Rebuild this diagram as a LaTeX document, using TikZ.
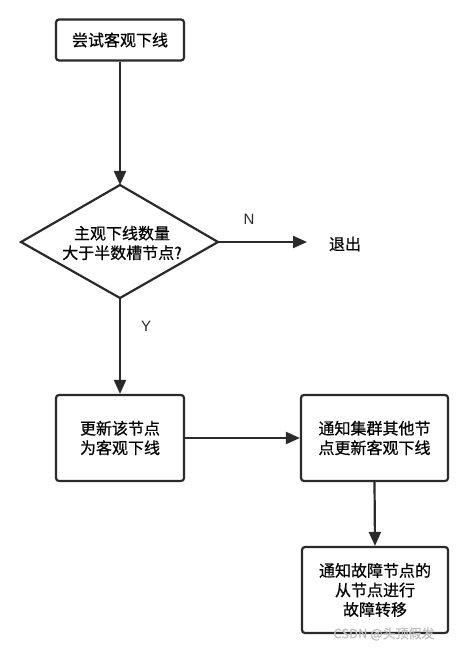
\documentclass[tikz,border=0pt]{standalone}
\usepackage{fontspec}
\setmainfont{Liberation Sans}
\newfontfamily\cjk[FakeBold=0.6]{Noto Sans CJK SC}
\usetikzlibrary{arrows.meta}
\definecolor{ln}{HTML}{2A2A2A}
\begin{document}
\begin{tikzpicture}[x=1pt,y=-1pt,
  box/.style={draw=ln,line width=2.2pt,rounded corners=3pt,align=center,font=\cjk\fontsize{16}{19.5}\selectfont,inner sep=0pt},
  arr/.style={draw=ln,line width=2.2pt,-{Triangle[length=14pt,width=12pt]}},
  lbl/.style={font=\fontsize{15}{17}\selectfont,text=ln}]
\useasboundingbox[fill=white] (0,0) rectangle (468,652);
\node[box,minimum width=128pt,minimum height=41pt] (try) at (120,40) {尝试客观下线};
\draw[draw=ln,line width=2.2pt,line join=miter,fill=white] (120,185) coordinate (dtop) -- (218,242) coordinate (dright) -- (120,298) coordinate (dbot) -- (21,242) -- cycle;
\node[align=center,font=\cjk\fontsize{16}{19.5}\selectfont,inner sep=0pt] (dec) at (122,243) {主观下线数量\\大于半数槽节点?};
\node[box,minimum width=128pt,minimum height=86pt] (upd) at (120,438) {更新该节点\\为客观下线};
\node[box,minimum width=147pt,minimum height=86pt] (ntf) at (374.5,438) {通知集群其他节\\点更新客观下线};
\node[box,minimum width=146pt,minimum height=86pt] (fo) at (375,590) {通知故障节点的\\从节点进行\\故障转移};
\node[font=\cjk\fontsize{16}{19.5}\selectfont,inner sep=0pt] (exit) at (345,244) {退出};
\coordinate (nend) at (307,242);
\node[lbl] (N) at (249,219) {N};
\node[lbl] (Y) at (146,326) {Y};
\node[font=\cjk\fontsize{13}{15}\selectfont,text=black!25,inner sep=0pt] (wm) at (384,634) {CSDN @头顶假发};
\draw[arr] (try.south) -- (dtop);
\draw[arr] (dright) -- (nend);
\draw[arr] (dbot) -- (upd.north);
\draw[arr] (upd.east) -- (ntf.west);
\draw[arr] (ntf.south) -- (fo.north);
\end{tikzpicture}
\end{document}
